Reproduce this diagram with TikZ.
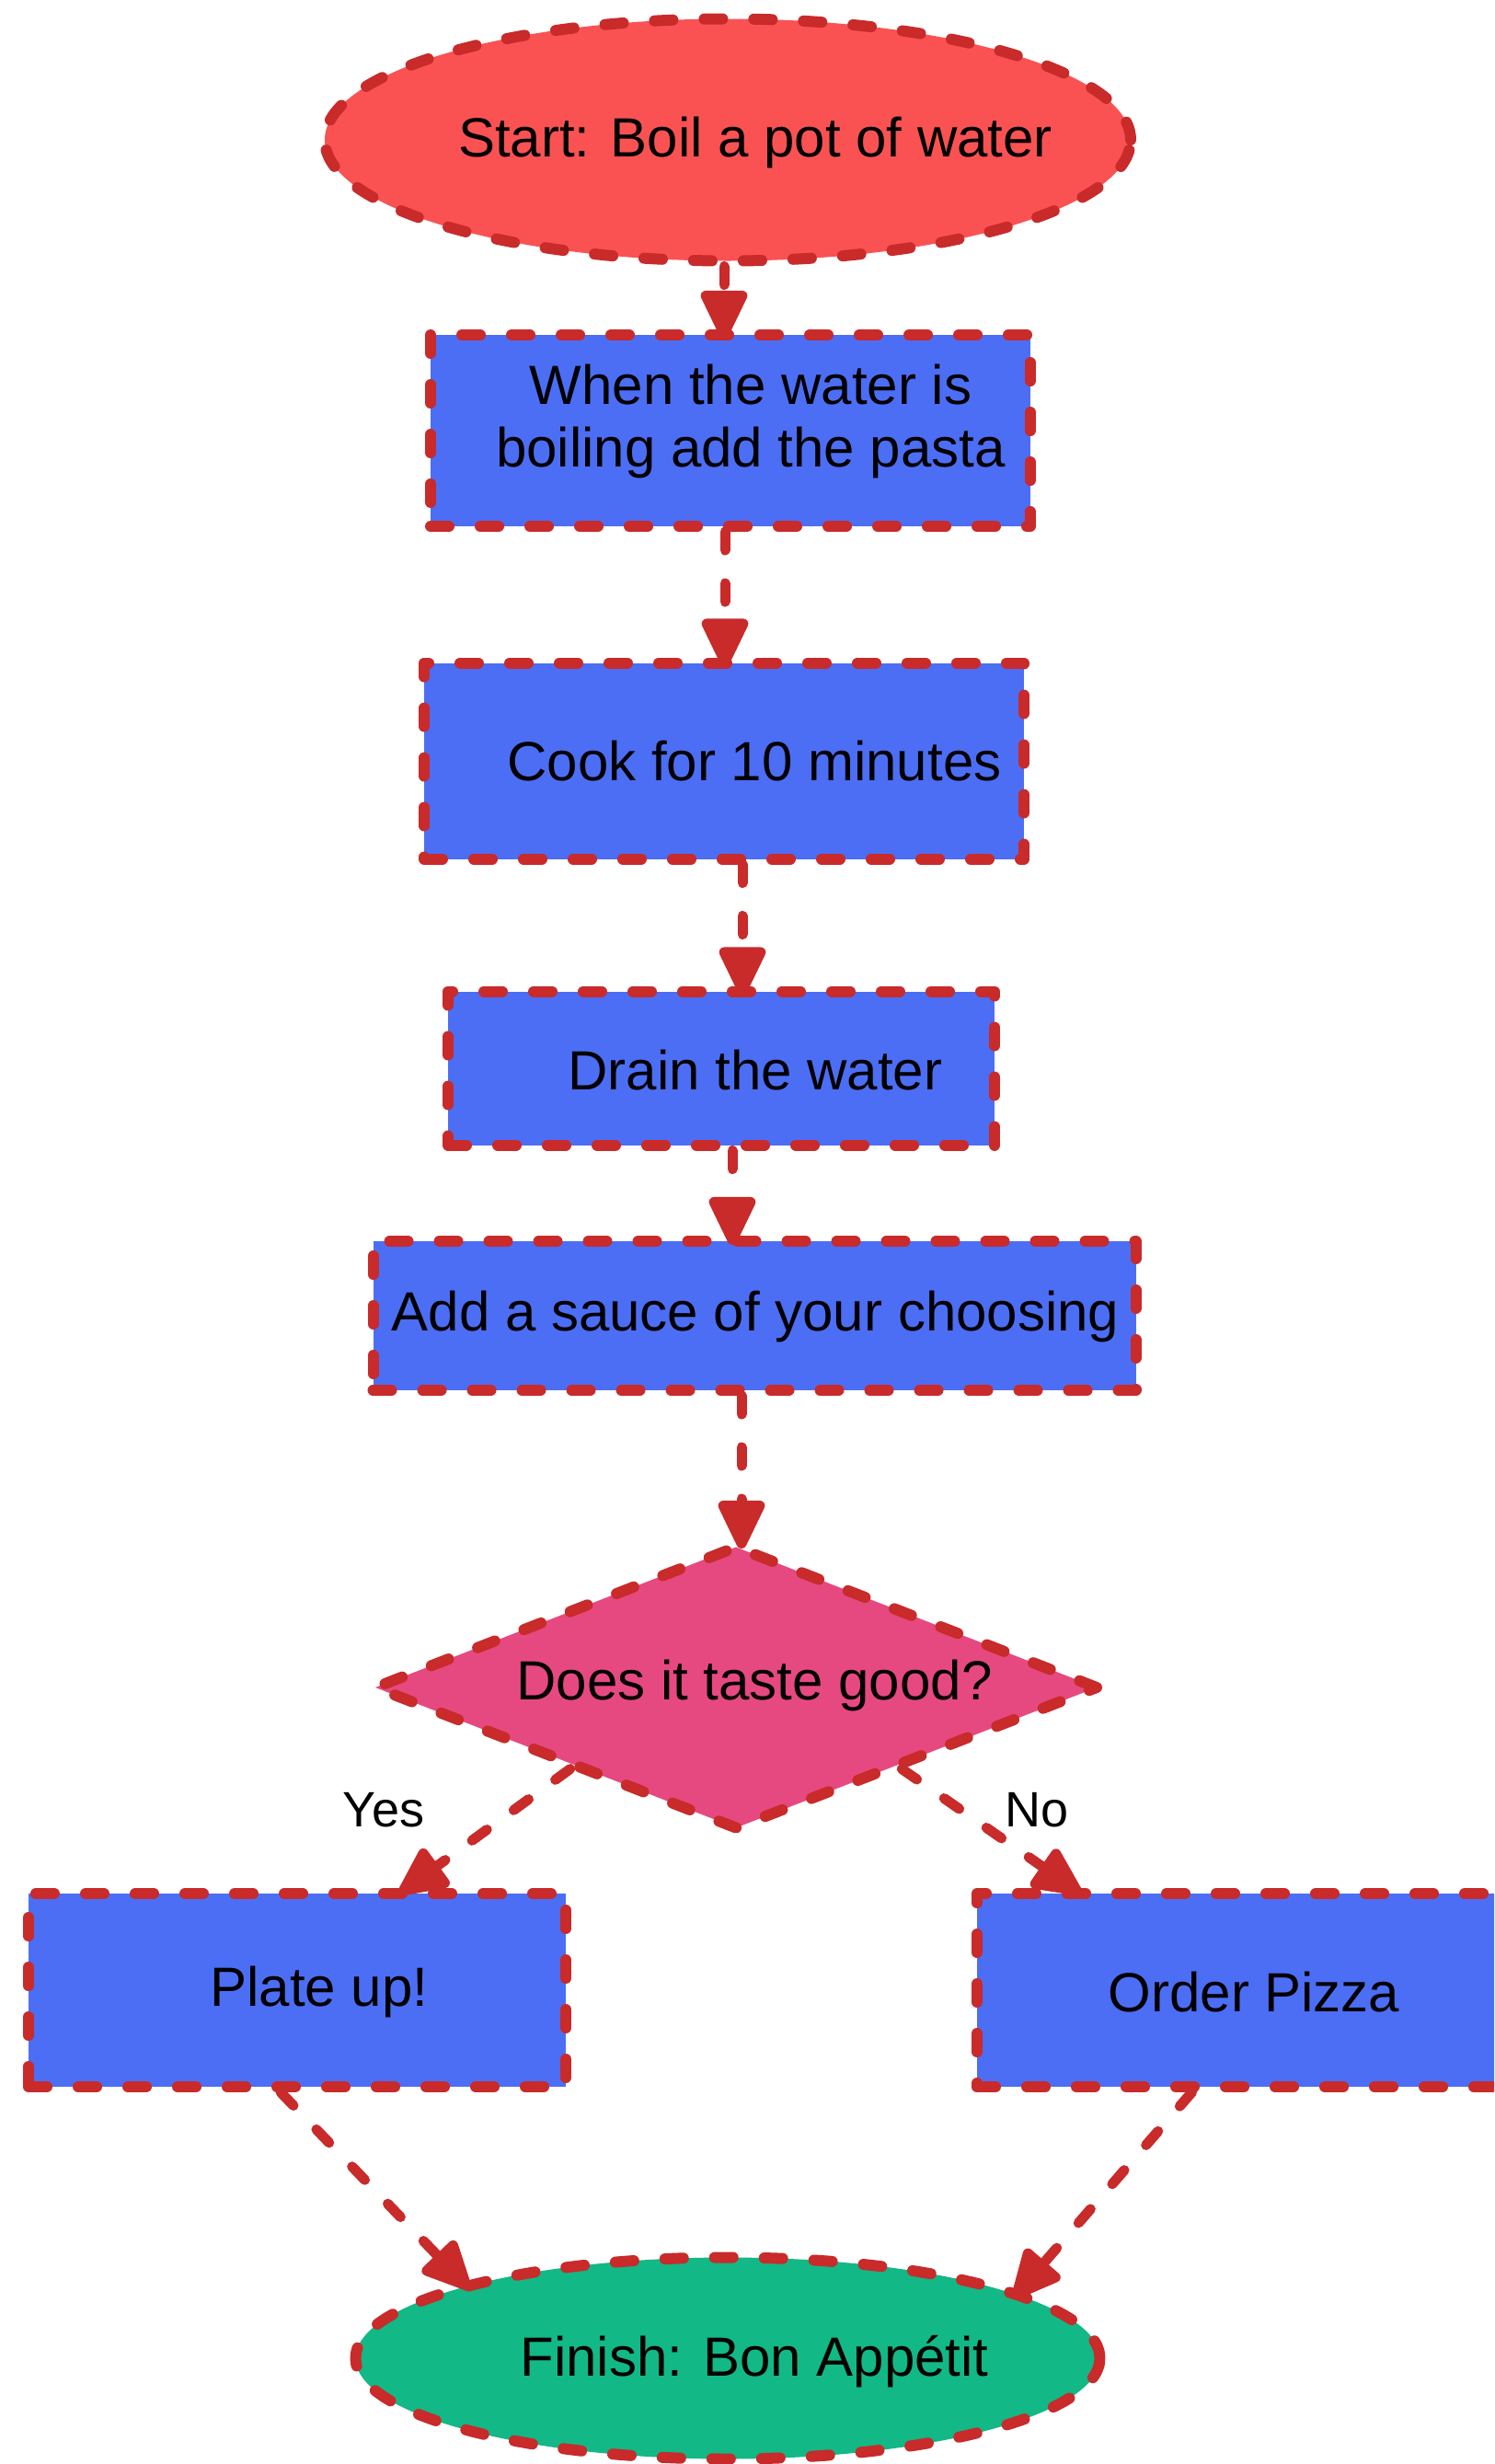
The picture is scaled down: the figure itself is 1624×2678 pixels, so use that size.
\documentclass[tikz,border=0pt]{standalone}
\usepackage{fontspec}
\setmainfont{Liberation Sans}
\usetikzlibrary{shapes.geometric,arrows.meta,calc}

\definecolor{edgered}{HTML}{C92A2A}
\definecolor{startred}{HTML}{FA5252}
\definecolor{stepblue}{HTML}{4C6EF5}
\definecolor{askpink}{HTML}{E64980}
\definecolor{endteal}{HTML}{12B886}

\tikzset{
  outline/.style={draw=edgered, line width=6pt, dash pattern=on 10pt off 17pt,
    line cap=round, line join=round, inner sep=0pt},
  stepbox/.style={outline, rectangle, fill=stepblue},
  terminal/.style={outline, ellipse},
  decision/.style={outline, diamond},
  txt/.style={font=\fontsize{30}{34}\selectfont, align=center, inner sep=0pt},
  branchtxt/.style={font=\fontsize{27}{30}\selectfont, inner sep=0pt},
  flow/.style={draw=edgered, line width=5.5pt, dash pattern=on 10pt off 18pt, line cap=round,
    shorten >=-5pt, -{Triangle[length=30pt,width=27pt,round]}}
}

\begin{document}
\begin{tikzpicture}[x=0.5pt, y=-0.5pt]
  \useasboundingbox (0,0) rectangle (1624,2678);
  \clip (0,0) rectangle (1624,2678);

  % shapes
  \node[terminal, fill=startred, minimum width=438pt, minimum height=131.5pt] (start) at (791,152) {};
  \node[stepbox, minimum width=326pt, minimum height=104pt] (s1) at (794,468) {};
  \node[stepbox, minimum width=326pt, minimum height=106.5pt] (s2) at (787,827) {};
  \node[stepbox, minimum width=297pt, minimum height=83.5pt] (s3) at (784,1161) {};
  \node[stepbox, minimum width=414.5pt, minimum height=81pt] (s4) at (820,1430) {};
  \node[decision, fill=askpink, minimum width=394.5pt, minimum height=155pt] (ask) at (800,1834) {};
  \node[stepbox, minimum width=292pt, minimum height=105pt] (plate) at (323,2163) {};
  \node[stepbox, minimum width=301pt, minimum height=105pt] (pizza) at (1363,2163) {};
  \node[terminal, fill=endteal, minimum width=404.5pt, minimum height=109.5pt] (finish) at (791,2563) {};

  % texts
  \node[txt] (start-t) at (821,155) {Start: Boil a pot of water};
  \node[txt] (s1-t) at (816,458) {When the water is\\boiling add the pasta};
  \node[txt] (s2-t) at (820,827) {Cook for 10 minutes};
  \node[txt] (s3-t) at (821,1163) {Drain the water};
  \node[txt] (s4-t) at (821,1431) {Add a sauce of your choosing};
  \node[txt] (ask-t) at (820,1832) {Does it taste good?};
  \node[txt] (plate-t) at (347,2165) {Plate up!};
  \node[txt] (pizza-t) at (1363,2165) {Order Pizza};
  \node[txt] (finish-t) at (820,2567) {Finish: Bon Appétit};
  \node[branchtxt] (yes) at (417,1967) {Yes};
  \node[branchtxt] (no) at (1127,1967) {No};

  % start points of the vertical connectors
  \path (start.south) ++(-4,0) coordinate (c0);
  \path (s1.south) ++(-6,0) coordinate (c1);
  \path (s2.south) ++(20,0) coordinate (c2);
  \path (s3.south) ++(12,0) coordinate (c3);
  \path (s4.south) ++(-14,0) coordinate (c4);

  % connectors
  \draw[flow] (c0) -- (c0 |- s1.north);
  \draw[flow] (c1) -- (c1 |- s2.north);
  \draw[flow] (c2) -- (c2 |- s3.north);
  \draw[flow] (c3) -- (c3 |- s4.north);
  \draw[flow] (c4) -- (c4 |- ask.north);
  \draw[flow] ($(ask.west)!0.55!(ask.south)$) -- ($(plate.north west)!0.7!(plate.north east)$);
  \draw[flow] ($(ask.south)!0.45!(ask.east)$) -- ($(pizza.north west)!0.18!(pizza.north east)$);
  \draw[flow] ($(plate.south west)!0.47!(plate.south east)$) -- (finish.164);
  \draw[flow] ($(pizza.south west)!0.39!(pizza.south east)$) -- (finish.13);
\end{tikzpicture}
\end{document}
